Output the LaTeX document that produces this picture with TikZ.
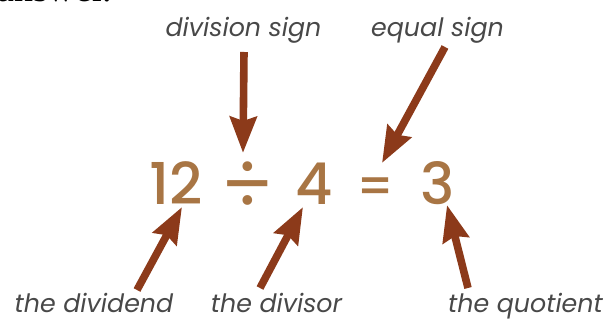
\documentclass[tikz,border=0pt]{standalone}
\usepackage{fontspec}
\setmainfont{Liberation Serif}
\newfontfamily\eqfont{Poppins Medium}
\newfontfamily\labfont{Poppins}
\usetikzlibrary{arrows.meta,calc}
\definecolor{eqbrown}{RGB}{168,117,68}
\definecolor{arrowred}{RGB}{140,58,26}
\definecolor{labgray}{RGB}{72,72,72}

\begin{document}
\begin{tikzpicture}[
  x=0.025cm, y=-0.025cm,
  >={Stealth[length=9mm, width=6.6mm, inset=1mm]},
  every node/.style={inner sep=0pt, anchor=base},
  lab/.style={font=\labfont\itshape\fontsize{18}{22}\selectfont, text=labgray},
  sym/.style={font=\eqfont\fontsize{41}{46}\selectfont, text=eqbrown},
  pointer/.style={->, line width=1.9mm, draw=arrowred}
]
\useasboundingbox (0,0) rectangle (608,320);

% cut-off line of the page text above
\node[anchor=base west, font=\fontsize{27}{30}\selectfont] (page) at (-3,2) {answer.};

% the sum
\node[sym] (n12) at (176.5,205) {12};
\node[sym, anchor=center, font=\labfont\fontsize{56}{60}\selectfont] (divsym) at (247.5,187.5) {÷};
\node[sym] (n4) at (314.5,205) {4};
\node[sym, anchor=center, font=\eqfont\fontsize{35}{40}\selectfont] (eqsym) at (376,191) {=};
\node[sym] (n3) at (437.5,205) {3};

% labels
\node[lab] (divlab) at (243.5,37) {division sign};
\node[lab] (eqlab) at (437.5,37) {equal sign};
\node[lab] (dvdlab) at (94,313) {the dividend};
\node[lab] (dvrlab) at (276.5,313) {the divisor};
\node[lab] (quolab) at (525.5,313) {the quotient};

\draw[pointer] ($(divlab.base)+(0.5,15)$) -- ($(divsym.center)+(-4.5,-34.5)$);
\draw[pointer] ($(eqlab.base)+(7.5,10)$) -- ($(eqsym.center)+(6,-28)$);
\draw[pointer] ($(dvdlab.base)+(43,-23)$) -- ($(n12.base)+(5.5,2)$);
\draw[pointer] ($(dvrlab.base)+(-16.5,-25)$) -- ($(n4.base)+(-11.5,2)$);
\draw[pointer] ($(quolab.base)+(-57.5,-25)$) -- ($(n3.base)+(9.5,0)$);
\end{tikzpicture}
\end{document}
